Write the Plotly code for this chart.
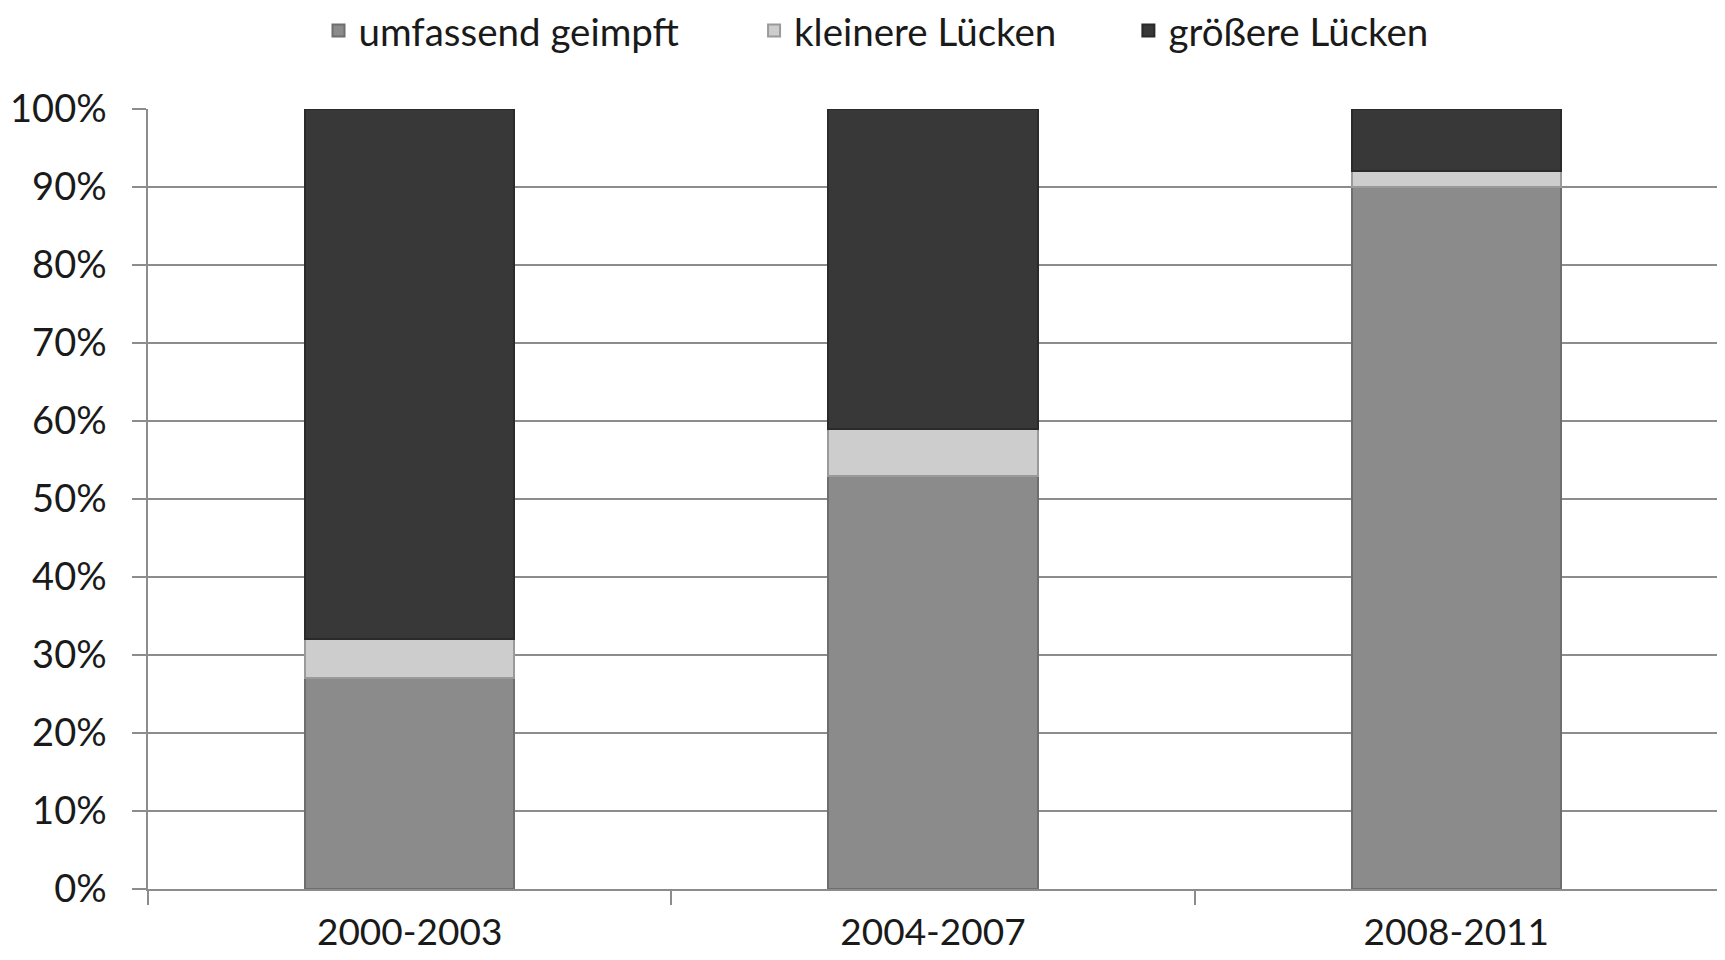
import plotly.graph_objects as go

categories = ["2000-2003", "2004-2007", "2008-2011"]
umfassend = [27, 53, 90]
kleinere = [5, 6, 2]
groessere = [68, 41, 8]
series_names = ["umfassend geimpft", "kleinere Lücken", "größere Lücken"]
tick_vals = [0, 10, 20, 30, 40, 50, 60, 70, 80, 90, 100]
tick_text = [f"{v}%" for v in tick_vals]

colors = ["#8b8b8b", "#cdcdcd", "#383838"]
edges = ["#6e6e6e", "#9a9a9a", "#2a2a2a"]
legend_ids = ["legend", "legend2", "legend3"]
legend_x = [0.180, 0.4325, 0.6495]

fig = go.Figure()
for name, vals, c, e, lg in zip(series_names, [umfassend, kleinere, groessere], colors, edges, legend_ids):
    fig.add_trace(go.Bar(x=categories, y=vals, name=name, legend=lg,
                         marker=dict(color=c, line=dict(color=e, width=2))))

font_family = "Lato, Open Sans, sans-serif"
legend_common = dict(orientation="h", xref="container", yref="container",
                     y=0.976, yanchor="middle", xanchor="left",
                     font=dict(size=38.5, color="#1a1a1a"), bgcolor="rgba(0,0,0,0)")
fig.update_layout(
    barmode="stack",
    bargap=0.6,
    width=1725, height=960,
    margin=dict(l=140, r=15, t=101, b=79, autoexpand=False),
    paper_bgcolor="white", plot_bgcolor="white",
    font=dict(family=font_family, size=38, color="#1a1a1a"),
    legend=dict(x=legend_x[0], **legend_common),
    legend2=dict(x=legend_x[1], **legend_common),
    legend3=dict(x=legend_x[2], **legend_common),
    showlegend=True,
)
fig.update_yaxes(range=[0, 100], tickvals=tick_vals, ticktext=tick_text,
                 showgrid=True, gridcolor="#8c8c8c", gridwidth=1.5,
                 showline=True, linecolor="#8c8c8c", linewidth=1.5,
                 ticks="outside", ticklen=14, tickcolor="#8c8c8c", tickwidth=1.5,
                 ticklabelstandoff=18, zeroline=False, automargin=False,
                 tickfont=dict(size=38))
fig.update_xaxes(showline=True, linecolor="#8c8c8c", linewidth=1.5,
                 ticks="outside", ticklen=14, tickcolor="#8c8c8c", tickwidth=1.5,
                 ticklabelstandoff=10, tickson="boundaries", showgrid=False,
                 automargin=False, tickfont=dict(size=37))

fig.write_html("out.html")
